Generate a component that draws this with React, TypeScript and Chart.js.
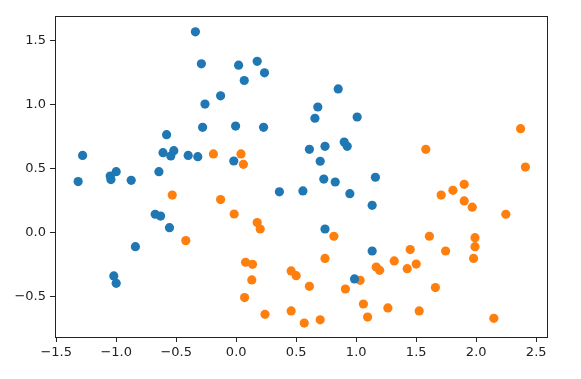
import React, { useEffect, useRef } from "react";
import { Chart, registerables } from "chart.js";

Chart.register(...registerables);

const class0X = [-0.34, -0.29, 0.02, 0.175, 0.236, 0.067, -0.13, -0.26, -0.28, -0.005, 0.228, -0.58, -0.61, -0.545, -0.52, -0.40, -0.32, -0.02, -1.28, -1.317, -1.05, -1.044, -1.0, -0.875, -0.644, 0.36, 0.556, 0.85, 0.68, 0.656, 1.008, 0.90, 0.925, 0.61, 0.74, 0.70, 0.73, 0.825, 1.16, -0.675, -0.63, -0.556, -0.84, -1.02, -1.0, 0.947, 1.133, 0.74, 1.133, 0.986];
const class0Y = [1.57, 1.32, 1.31, 1.34, 1.25, 1.19, 1.07, 1.006, 0.824, 0.834, 0.824, 0.767, 0.626, 0.60, 0.642, 0.605, 0.595, 0.561, 0.605, 0.40, 0.444, 0.416, 0.478, 0.41, 0.478, 0.32, 0.327, 1.124, 0.983, 0.895, 0.905, 0.709, 0.676, 0.652, 0.676, 0.559, 0.42, 0.397, 0.434, 0.145, 0.131, 0.04, -0.108, -0.337, -0.395, 0.306, 0.215, 0.03, -0.142, -0.36];

const class1X = [-0.19, 0.04, 0.06, 1.58, 2.37, 2.41, 1.90, 1.806, -0.533, -0.13, -0.017, 0.175, 0.20, -0.42, 0.078, 0.136, 0.13, 0.07, 0.24, 0.458, 0.50, 0.458, 1.708, 1.90, 1.967, 2.247, 0.814, 1.61, 1.99, 1.99, 1.45, 1.745, 0.74, 1.978, 1.317, 1.50, 1.425, 1.167, 1.195, 1.033, 0.61, 0.91, 1.66, 1.06, 1.264, 1.525, 1.095, 2.147, 0.70, 0.567];
const class1Y = [0.616, 0.616, 0.535, 0.652, 0.814, 0.514, 0.379, 0.332, 0.295, 0.26, 0.147, 0.08, 0.03, -0.061, -0.23, -0.246, -0.368, -0.506, -0.637, -0.298, -0.335, -0.61, 0.295, 0.249, 0.20, 0.145, -0.027, -0.027, -0.038, -0.108, -0.131, -0.142, -0.2, -0.2, -0.22, -0.244, -0.28, -0.267, -0.293, -0.371, -0.418, -0.439, -0.428, -0.556, -0.587, -0.61, -0.658, -0.668, -0.68, -0.705];

const xTicks = [-1.5, -1.0, -0.5, 0.0, 0.5, 1.0, 1.5, 2.0, 2.5];
const yTicks = [-0.5, 0.0, 0.5, 1.0, 1.5];

const fmt = (v: number) => v.toFixed(1).replace("-", "\u2212");

export default function App() {
  const ref = useRef<HTMLCanvasElement | null>(null);
  useEffect(() => {
    if (!ref.current) return;
    const frame = {
      id: "frame",
      afterDraw(chart: any) {
        const { ctx, chartArea } = chart;
        ctx.save();
        ctx.strokeStyle = "#222";
        ctx.lineWidth = 1;
        ctx.strokeRect(
          Math.round(chartArea.left) + 0.5,
          Math.round(chartArea.top) + 0.5,
          Math.round(chartArea.right - chartArea.left),
          Math.round(chartArea.bottom - chartArea.top)
        );
        ctx.restore();
      },
    };
    const chart = new Chart(ref.current, {
      type: "scatter",
      data: {
        datasets: [
          {
            data: class0X.map((x, i) => ({ x, y: class0Y[i] })),
            backgroundColor: "#1f77b4",
            borderColor: "#1f77b4",
            borderWidth: 0,
            pointRadius: 4.6,
          },
          {
            data: class1X.map((x, i) => ({ x, y: class1Y[i] })),
            backgroundColor: "#ff7f0e",
            borderColor: "#ff7f0e",
            borderWidth: 0,
            pointRadius: 4.6,
          },
        ],
      },
      options: {
        animation: false,
        responsive: false,
        layout: { padding: { left: 0, right: 34, top: 16, bottom: 12 } },
        plugins: { legend: { display: false }, tooltip: { enabled: false } },
        scales: {
          x: {
            type: "linear",
            min: -1.51,
            max: 2.59,
            afterBuildTicks: (s: any) => {
              s.ticks = xTicks.map((v) => ({ value: v }));
            },
            afterFit: (s: any) => {
              s.height = 30;
            },
            border: { display: false },
            grid: { drawOnChartArea: false, drawTicks: true, tickLength: 5, tickColor: "#222" },
            ticks: {
              color: "#222",
              font: { family: "DejaVu Sans", size: 13 },
              padding: 3,
              maxRotation: 0,
              callback: (v: any) => fmt(Number(v)),
            },
          },
          y: {
            type: "linear",
            min: -0.814,
            max: 1.694,
            afterBuildTicks: (s: any) => {
              s.ticks = yTicks.map((v) => ({ value: v }));
            },
            afterFit: (s: any) => {
              s.width = 55;
            },
            border: { display: false },
            grid: { drawOnChartArea: false, drawTicks: true, tickLength: 5, tickColor: "#222" },
            ticks: {
              color: "#222",
              font: { family: "DejaVu Sans", size: 13 },
              padding: 4,
              callback: (v: any) => fmt(Number(v)),
            },
          },
        },
      },
      plugins: [frame],
    } as any);
    return () => chart.destroy();
  }, []);
  return (
    <div style={{ position: "absolute", left: 0, top: 0, width: 581, height: 379, background: "#fff" }}>
      <canvas ref={ref} width={581} height={379} style={{ width: 581, height: 379 }} />
    </div>
  );
}
